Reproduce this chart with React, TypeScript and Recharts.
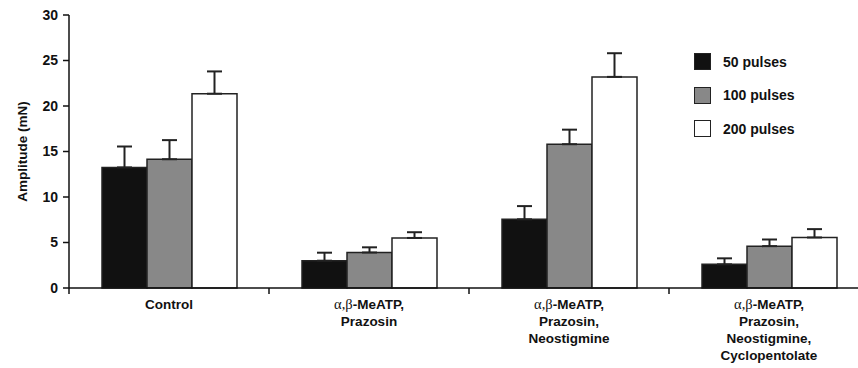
import React from 'react';
import { BarChart, Bar, XAxis, YAxis, ErrorBar } from 'recharts';

const groups = [
  'Control',
  'α,β-MeATP,\nPrazosin',
  'α,β-MeATP,\nPrazosin,\nNeostigmine',
  'α,β-MeATP,\nPrazosin,\nNeostigmine,\nCyclopentolate',
];
const pulses50 = [13.25, 3.0, 7.55, 2.6];
const pulses100 = [14.15, 3.9, 15.8, 4.6];
const pulses200 = [21.35, 5.5, 23.2, 5.55];
const err50 = [2.3, 0.88, 1.45, 0.66];
const err100 = [2.1, 0.57, 1.6, 0.73];
const err200 = [2.45, 0.63, 2.6, 0.92];
const yTicks = [0, 5, 10, 15, 20, 25, 30];

const series = [
  { key: 'p50', err: 'e50', name: '50 pulses', fill: '#111111' },
  { key: 'p100', err: 'e100', name: '100 pulses', fill: '#888888' },
  { key: 'p200', err: 'e200', name: '200 pulses', fill: '#ffffff' },
];

const data = groups.map((g, i) => ({
  group: g,
  p50: pulses50[i],
  p100: pulses100[i],
  p200: pulses200[i],
  e50: [0, err50[i]],
  e100: [0, err100[i]],
  e200: [0, err200[i]],
}));

const CHART_W = 880;
const CHART_H = 368;
const MARGIN = { top: 15, right: 11, bottom: 0, left: 0 };
const Y_W = 69;
const BAND = (CHART_W - MARGIN.left - MARGIN.right - Y_W) / groups.length;

const font = '"Liberation Sans", Arial, Helvetica, sans-serif';

const GroupTick = (props: any) => {
  const { x, y, payload } = props;
  const lines = String(payload.value).split('\n');
  return (
    <g>
      <line x1={x - BAND / 2} y1={y} x2={x - BAND / 2} y2={y + 6} stroke="#111" strokeWidth={1.5} />
      {lines.map((line, i) => {
        const greek = line.startsWith('α,β');
        return (
          <text
            key={i}
            x={x}
            y={y + 21 + i * 17}
            textAnchor="middle"
            fontFamily={font}
            fontWeight="bold"
            fontSize={13.5}
            fill="#111"
          >
            {greek ? (
              <>
                <tspan fontFamily='"Liberation Serif", "Times New Roman", serif' fontWeight="normal" fontSize={14.5}>α,β</tspan>
                <tspan>{line.slice(3)}</tspan>
              </>
            ) : (
              line
            )}
          </text>
        );
      })}
    </g>
  );
};

const YLabel = (props: any) => {
  const { viewBox } = props;
  const cx = viewBox.x + 27;
  const cy = viewBox.y + viewBox.height / 2;
  return (
    <text
      x={cx}
      y={cy}
      transform={`rotate(-90, ${cx}, ${cy})`}
      textAnchor="middle"
      fontFamily={font}
      fontWeight="bold"
      fontSize={13.5}
      fill="#111"
    >
      Amplitude (mN)
    </text>
  );
};

const LegendBox = () => (
  <div
    style={{
      position: 'absolute',
      left: 694,
      top: 45,
      fontFamily: font,
      fontWeight: 'bold',
      fontSize: 14,
      color: '#111',
    }}
  >
    {series.map((s) => (
      <div key={s.key} style={{ display: 'flex', alignItems: 'center', height: 33.5 }}>
        <div
          style={{
            width: 15,
            height: 15,
            background: s.fill,
            border: '1.5px solid #222',
            marginRight: 12,
          }}
        />
        <span>{s.name}</span>
      </div>
    ))}
  </div>
);

export default function App() {
  return (
    <div style={{ position: 'absolute', left: 0, top: 0, width: 858, height: 368, overflow: 'hidden', background: '#fff' }}>
      <BarChart width={CHART_W} height={CHART_H} data={data} margin={MARGIN} barCategoryGap={33} barGap={0}>
        <XAxis
          dataKey="group"
          axisLine={{ stroke: '#111', strokeWidth: 1.5 }}
          tickLine={false}
          tickSize={0}
          tickMargin={0}
          interval={0}
          height={80}
          tick={<GroupTick />}
        />
        <YAxis
          domain={[0, 30]}
          ticks={yTicks}
          width={Y_W}
          axisLine={{ stroke: '#111', strokeWidth: 1.5 }}
          tickLine={{ stroke: '#111', strokeWidth: 1.5 }}
          tickSize={6}
          tickMargin={5}
          tick={{ fontFamily: font, fontWeight: 'bold', fontSize: 14, fill: '#111' }}
          label={<YLabel />}
        />
        {series.map((s) => (
          <Bar key={s.key} dataKey={s.key} name={s.name} fill={s.fill} stroke="#222" strokeWidth={1.5} isAnimationActive={false}>
            <ErrorBar dataKey={s.err} width={7.5} stroke="#222" strokeWidth={2} isAnimationActive={false} />
          </Bar>
        ))}
      </BarChart>
      <LegendBox />
    </div>
  );
}
